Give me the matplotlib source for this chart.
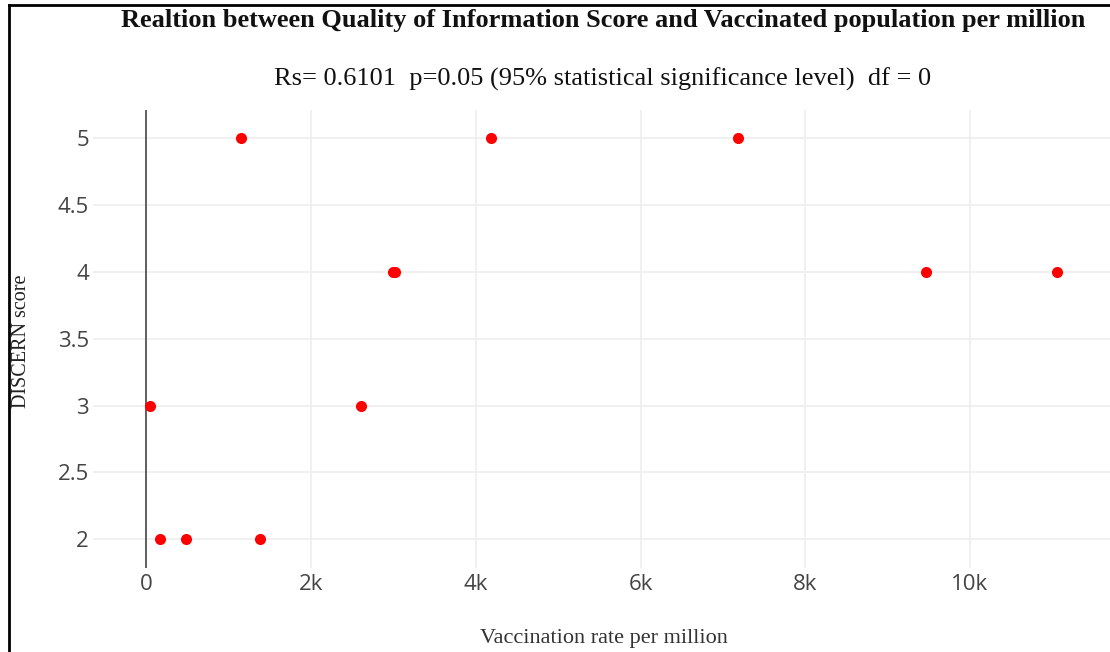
import matplotlib
matplotlib.use("Agg")
import matplotlib.pyplot as plt
from matplotlib.lines import Line2D

# data
vaccination_rate = [1150, 4180, 7180, 2990, 3015, 9470, 11060, 50, 2610, 165, 485, 1380]
discern_score = [5, 5, 5, 4, 4, 4, 4, 3, 3, 2, 2, 2]

x_ticks = [0, 2000, 4000, 6000, 8000, 10000]
x_tick_labels = ['0', '2k', '4k', '6k', '8k', '10k']
y_ticks = [2, 2.5, 3, 3.5, 4, 4.5, 5]
y_tick_labels = ['2', '2.5', '3', '3.5', '4', '4.5', '5']

TITLE = 'Realtion between Quality of Information Score and Vaccinated population per million'
SUBTITLE = 'Rs= 0.6101  p=0.05 (95% statistical significance level)  df = 0'

SERIF = ['Liberation Serif', 'DejaVu Serif']
SANS = ['Open Sans', 'DejaVu Sans']

fig = plt.figure(figsize=(11.1, 6.52), dpi=100)
ax = fig.add_axes([93 / 1110, 1 - 568 / 652, 1 - 93 / 1110, (568 - 110) / 652])

ax.scatter(vaccination_rate, discern_score, s=64, color='#ff0000', zorder=3, linewidths=0)

ax.set_xlim(-647, 11700)
ax.set_ylim(1.785, 5.21)
ax.set_xticks(x_ticks)
ax.set_xticklabels(x_tick_labels)
ax.set_yticks(y_ticks)
ax.set_yticklabels(y_tick_labels)

# grid, plus the dark zero line that replaces the grid line at x=0
ax.grid(True, color='#eeeeee', linewidth=1.2)
for line in ax.get_xgridlines()[:1]:
    line.set_visible(False)
ax.axvline(0, color='#444444', linewidth=1.2, zorder=2)

for sp in ax.spines.values():
    sp.set_visible(False)
ax.tick_params(length=0, labelsize=16, labelcolor='#444444')
ax.tick_params(axis='x', pad=4)
ax.tick_params(axis='y', pad=3)
for lab in ax.get_xticklabels() + ax.get_yticklabels():
    lab.set_family(SANS)

# titles and axis labels
fig.text(603 / 1110, 1 - 20 / 652, TITLE, ha='center', va='center',
         family=SERIF, fontweight='bold', fontsize=19, color='#111111')
fig.text(603 / 1110, 1 - 79 / 652, SUBTITLE, ha='center', va='center',
         family=SERIF, fontsize=19, color='#111111')
fig.text(604 / 1110, 1 - 639 / 652, 'Vaccination rate per million', ha='center', va='center',
         family=SERIF, fontsize=16, color='#333333')
fig.text(22 / 1110, 1 - 341 / 652, 'DISCERN score', ha='center', va='center', rotation=90,
         family=SERIF, fontsize=14.5, color='#222222')

# frame of the screenshot (left and top edges)
fig.add_artist(Line2D([9 / 1110, 9 / 1110], [0, 1 - 5 / 652], transform=fig.transFigure,
                      color='black', linewidth=2))
fig.add_artist(Line2D([9 / 1110, 1], [1 - 5 / 652, 1 - 5 / 652], transform=fig.transFigure,
                      color='black', linewidth=2))

fig.savefig('out.png', dpi=100)
